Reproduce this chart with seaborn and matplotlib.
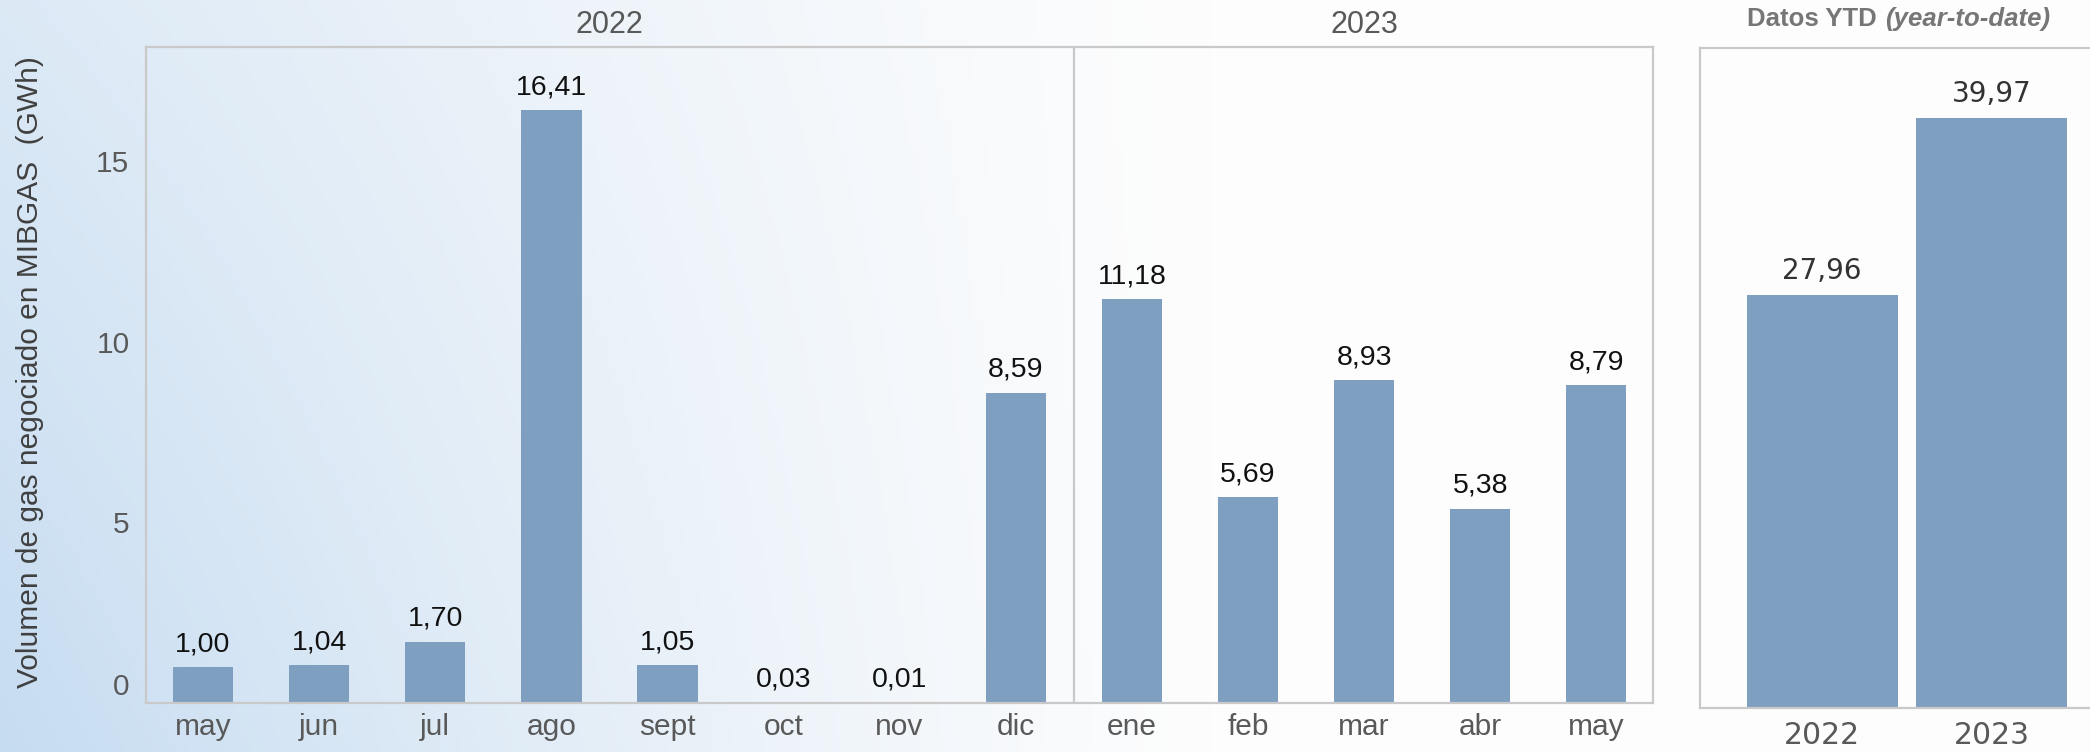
import numpy as np
import pandas as pd
import matplotlib
matplotlib.use('Agg')
import matplotlib.pyplot as plt
import matplotlib.transforms as mtransforms
import seaborn as sns
from matplotlib import font_manager
from matplotlib.colors import to_rgb

# datos mensuales (GWh negociados en MIBGAS)
meses = ['may', 'jun', 'jul', 'ago', 'sept', 'oct', 'nov', 'dic',
         'ene', 'feb', 'mar', 'abr', 'may']
anios_mes = [2022] * 8 + [2023] * 5
volumen = [1.00, 1.04, 1.70, 16.41, 1.05, 0.03, 0.01, 8.59,
           11.18, 5.69, 8.93, 5.38, 8.79]

# datos YTD
anios_ytd = ['2022', '2023']
volumen_ytd = [27.96, 39.97]

sns.set_theme(style='white')
nombres = {f.name for f in font_manager.fontManager.ttflist}
fuente = 'Liberation Sans' if 'Liberation Sans' in nombres else 'DejaVu Sans'
plt.rcParams['font.family'] = [fuente, 'DejaVu Sans']

color_barra = '#7f9fc1'
gris_eje = '#c9c9c9'
gris_txt = '#595959'

fig = plt.figure(figsize=(20.9, 7.52), dpi=100)
fig.patch.set_facecolor('#fdfdfd')

# fondo degradado azul claro a la izquierda
fondo = fig.add_axes([0, 0, 1, 1], zorder=-5)
xx, yy = np.meshgrid(np.linspace(0, 1, 400), np.linspace(0, 1, 150))
s = np.clip(1 - xx / 0.58, 0, 1) ** 1.2 * (0.6 + 0.4 * yy)
azul = np.array(to_rgb('#c6dcf1'))
blanco = np.array(to_rgb('#fdfdfd'))
img = blanco[None, None, :] * (1 - s[..., None]) + azul[None, None, :] * s[..., None]
fondo.imshow(img, aspect='auto', extent=[0, 1, 0, 1], origin='upper')
fondo.axis('off')

# panel mensual
ax = fig.add_axes([0.0699, 0.0652, 0.7211, 0.8723])
ax.set_facecolor('none')
df = pd.DataFrame({'periodo': [f'{m} {a}' for m, a in zip(meses, anios_mes)],
                   'gwh': volumen})
sns.barplot(data=df, x='periodo', y='gwh', color=color_barra, saturation=1,
            width=0.52, linewidth=0, ax=ax)
ax.bar_label(ax.containers[0], labels=[f'{v:.2f}'.replace('.', ',') for v in volumen],
             padding=7, fontsize=20.5, color='#111111')
ax.set_xticks(range(len(meses)))
ax.set_xticklabels(meses)
ax.set_xlim(-0.49, 12.49)
ax.set_ylim(0, 18.15)
ax.set_yticks([0, 5, 10, 15])
ax.set_xlabel('')
ax.set_ylabel('')
ax.tick_params(axis='both', length=0, labelsize=21.5, labelcolor=gris_txt)
ax.tick_params(axis='y', pad=12)
ax.tick_params(axis='x', pad=7)
# la etiqueta del 0 queda algo más arriba en el original
cero = ax.get_yticklabels()[0]
cero.set_transform(cero.get_transform() +
                   mtransforms.ScaledTranslation(0, 14 / 72, fig.dpi_scale_trans))
for sp in ax.spines.values():
    sp.set_visible(True)
    sp.set_color(gris_eje)
    sp.set_linewidth(1.6)
ax.axvline(7.5, color=gris_eje, lw=1.6)
for pos, txt in [(3.5, '2022'), (10, '2023')]:
    ax.text(pos, 1.033, txt, transform=ax.get_xaxis_transform(), ha='center',
            va='center', fontsize=22, color=gris_txt)

fig.text(0.0144, 0.505, 'Volumen de gas negociado en MIBGAS  (GWh)', rotation=90,
         ha='center', va='center', fontsize=21.5, color='#404040')

# panel YTD
ax2 = fig.add_axes([0.8134, 0.0585, 0.1866, 0.8777])
ax2.set_facecolor('#fdfdfd')
df2 = pd.DataFrame({'anio': anios_ytd, 'gwh': volumen_ytd})
sns.barplot(data=df2, x='anio', y='gwh', color=color_barra, saturation=1,
            width=0.89, linewidth=0, ax=ax2)
ax2.bar_label(ax2.containers[0], labels=[f'{v:.2f}'.replace('.', ',') for v in volumen_ytd],
              padding=7, fontsize=20, color='#333333', family='DejaVu Sans')
ax2.set_xlim(-0.72, 1.58)
ax2.set_ylim(0, 44.7)
ax2.set_yticks([])
ax2.set_xlabel('')
ax2.set_ylabel('')
ax2.tick_params(axis='x', length=0, labelsize=21.5, labelcolor=gris_txt, pad=9)
for t in ax2.get_xticklabels():
    t.set_family('DejaVu Sans')
for nombre, sp in ax2.spines.items():
    sp.set_visible(nombre != 'right')
    sp.set_color(gris_eje)
    sp.set_linewidth(1.6)

fig.text(1877 / 2090, 1 - 19 / 752, 'Datos YTD', ha='right', va='center',
         fontsize=18.5, fontweight='bold', color='#767676')
fig.text(1885 / 2090, 1 - 19 / 752, '(year-to-date)', ha='left', va='center',
         fontsize=18.5, fontweight='bold', fontstyle='italic', color='#767676')

fig.savefig('out.png', dpi=100, facecolor=fig.get_facecolor())
